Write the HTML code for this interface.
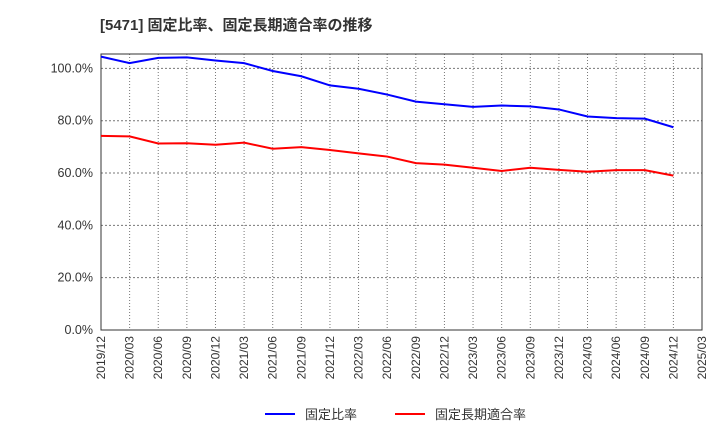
<!DOCTYPE html>
<html><head><meta charset="utf-8"><style>
body{margin:0;background:#fff;font-family:"Liberation Sans","Noto Sans CJK JP",sans-serif;}
</style></head><body>
<svg id="chart" width="720" height="440" xmlns="http://www.w3.org/2000/svg" font-family="Liberation Sans, Noto Sans CJK JP, sans-serif">
<text x="100" y="30" font-size="15" font-weight="bold" fill="#333">[5471]  固定比率、固定長期適合率の推移</text>
<g id="grid"></g><g id="axes"></g><g id="series"></g>
<g>
<line x1="265" y1="414" x2="295" y2="414" stroke="#0000ff" stroke-width="2"/>
<text x="305" y="419" font-size="13" fill="#333">固定比率</text>
<line x1="395" y1="414" x2="425" y2="414" stroke="#ff0000" stroke-width="2"/>
<text x="435" y="419" font-size="13" fill="#333">固定長期適合率</text>
</g>
</svg>
<script>
const categories=["2019/12","2020/03","2020/06","2020/09","2020/12","2021/03","2021/06","2021/09","2021/12","2022/03","2022/06","2022/09","2022/12","2023/03","2023/06","2023/09","2023/12","2024/03","2024/06","2024/09","2024/12","2025/03"];
const fixedRatio=[104.5,102,104,104.2,103,102,99,97,93.5,92.2,90,87.3,86.3,85.3,85.8,85.5,84.3,81.6,81,80.8,77.5];
const longTermFit=[74.2,74,71.3,71.4,70.8,71.6,69.3,69.9,68.8,67.5,66.3,63.8,63.2,62,60.8,62,61.2,60.5,61.1,61.1,59];
const yTicks=[0,20,40,60,80,100];
const L=101,R=702,T=54,B=330,ymax=105.5;
const NS="http://www.w3.org/2000/svg";
const x=i=>L+i*(R-L)/(categories.length-1);
const y=v=>B-v*(B-T)/ymax;
function mk(tag,attrs,parent,txt){const e=document.createElementNS(NS,tag);for(const k in attrs)e.setAttribute(k,attrs[k]);if(txt!==undefined)e.textContent=txt;document.getElementById(parent).appendChild(e);return e;}
categories.forEach((c,i)=>{
 if(i>0&&i<categories.length-1){const g=mk('line',{x1:x(i),x2:x(i),y1:T,y2:B,stroke:'#777','stroke-dasharray':'1,2'},'grid');
 
 }
 const t=mk('text',{x:0,y:0,'font-size':12,fill:'#333','text-anchor':'end',transform:`translate(${x(i)+4},${B+6}) rotate(-90)`},'axes',c);
 
 
});
yTicks.forEach(v=>{
 if(v>0){const g=mk('line',{x1:L,x2:R,y1:y(v),y2:y(v),stroke:'#777','stroke-dasharray':'2,2'},'grid');
 
 }
 const t=mk('text',{x:L-8,y:y(v)+4,'font-size':12.5,fill:'#333','text-anchor':'end'},'axes',v.toFixed(1)+'%');
 
 
});
const fr=mk('rect',{x:L,y:T,width:R-L,height:B-T,fill:'none',stroke:'#333'},'axes');


function line(data,color,name){const p=mk('polyline',{points:data.map((v,i)=>x(i)+','+y(v)).join(' '),fill:'none',stroke:color,'stroke-width':2},'series');
 
 }
line(fixedRatio,'#0000ff','fixed-ratio-line');
line(longTermFit,'#ff0000','long-term-fit-line');
</script>
</body></html>
